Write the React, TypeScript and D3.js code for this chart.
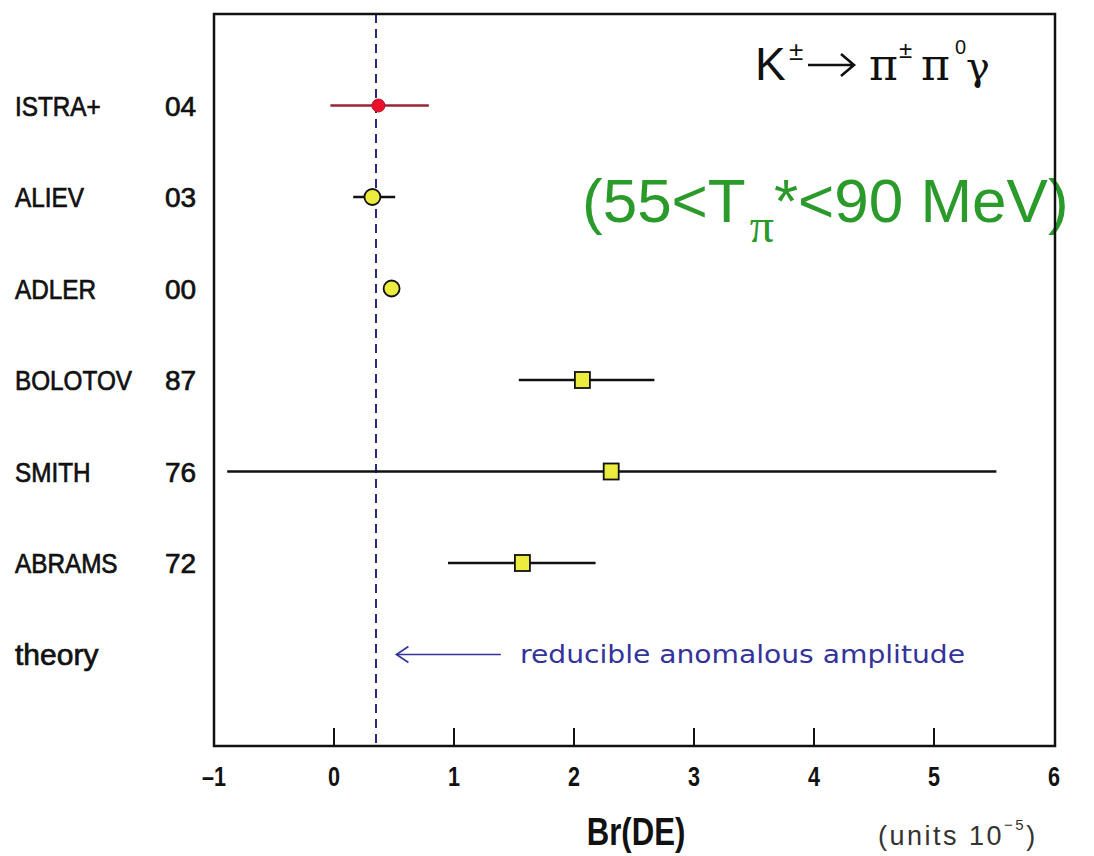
import React from "react";
import * as d3 from "d3";

const ROWS = ["ISTRA+", "ALIEV", "ADLER", "BOLOTOV", "SMITH", "ABRAMS", "theory"];
const YEARS = ["04", "03", "00", "87", "76", "72", ""];
const BR_VALUES = [0.37, 0.32, 0.48, 2.07, 2.31, 1.57];
const ERR_LOW = [-0.03, 0.16, 0.42, 1.54, -0.89, 0.95];
const ERR_HIGH = [0.79, 0.51, 0.54, 2.67, 5.52, 2.18];
const MARKERS = ["red", "circle", "circle", "square", "square", "square"];
const X_TICKS = [-1, 0, 1, 2, 3, 4, 5, 6];
const THEORY_VALUE = 0.35;

const W = 1094;
const H = 856;
const M = { left: 214, right: 1055, top: 14, bottom: 746 };

export default function App() {
  const x = d3.scaleLinear().domain([-1, 6]).range([M.left, M.right - 1]);
  const y = d3.scalePoint<string>().domain(ROWS).range([M.top, M.bottom]).padding(1);
  const yellow = "#ecec3e";
  const blue = "#33339a";
  const fmt = (v: number) => (v < 0 ? "\u2013" + Math.abs(v) : String(v));
  const ty = y("theory") as number;

  return (
    <svg
      width={W}
      height={H}
      style={{ position: "absolute", left: 0, top: 0, background: "#fff" }}
      fontFamily="'Liberation Sans', Arial, sans-serif"
    >
      <rect x={0} y={0} width={W} height={H} fill="#fff" />

      {/* green annotation (under frame) */}
      <text x={582} y={222} fontSize={62} fill="#2a9a2a">
        (55&lt;T
        <tspan fontFamily="'Liberation Serif', serif" fontSize={48} dy={20} dx={4}>
          π
        </tspan>
        <tspan dy={-20}>*&lt;90 MeV)</tspan>
      </text>

      {/* theory dashed line */}
      <line
        x1={x(THEORY_VALUE)}
        x2={x(THEORY_VALUE)}
        y1={M.top}
        y2={M.bottom}
        stroke="#2a2a7a"
        strokeWidth={2}
        strokeDasharray="9,6"
      />

      {/* error bars and markers */}
      {BR_VALUES.map((v, i) => {
        const cy = y(ROWS[i]) as number;
        const isRed = MARKERS[i] === "red";
        return (
          <g key={ROWS[i]}>
            <line
              x1={x(ERR_LOW[i])}
              x2={x(ERR_HIGH[i])}
              y1={cy}
              y2={cy}
              stroke={isRed ? "#9a2434" : "#111"}
              strokeWidth={2.6}
            />
            {MARKERS[i] === "square" ? (
              <rect
                x={x(v) - 7.5}
                y={cy - 8}
                width={15}
                height={16}
                fill={yellow}
                stroke="#111"
                strokeWidth={1.8}
              />
            ) : isRed ? (
              <circle cx={x(v)} cy={cy} r={6.5} fill="#e8102a" stroke="#c0102a" strokeWidth={1} />
            ) : (
              <circle cx={x(v)} cy={cy} r={8} fill={yellow} stroke="#111" strokeWidth={1.8} />
            )}
          </g>
        );
      })}

      {/* theory annotation */}
      <g stroke={blue} strokeWidth={1.6} fill="none">
        <line x1={x(0.52)} x2={x(1.39)} y1={ty} y2={ty} />
        <path d={`M${x(0.52) + 12},${ty - 8} L${x(0.52)},${ty} L${x(0.52) + 12},${ty + 8}`} />
      </g>
      <text
        x={520}
        y={ty + 8}
        fontFamily="'DejaVu Sans', sans-serif"
        fontSize={24}
        fill={blue}
        textLength={445}
        lengthAdjust="spacingAndGlyphs"
      >
        reducible anomalous amplitude
      </text>

      {/* row labels */}
      {ROWS.map((r, i) => {
        const cy = y(r) as number;
        const isTheory = r === "theory";
        return (
          <g key={"lab" + r}>
            <text
              transform={`translate(15,${cy + 10}) scale(${isTheory ? 1 : 0.9},1)`}
              fontSize={isTheory ? 30 : 27}
              fill="#111"
              stroke="#111"
              strokeWidth={0.7}
            >
              {r}
            </text>
            {YEARS[i] && (
              <text x={165} y={cy + 10} fontSize={28} fill="#111" stroke="#111" strokeWidth={0.7}>
                {YEARS[i]}
              </text>
            )}
          </g>
        );
      })}

      {/* ticks */}
      {X_TICKS.map((t) => (
        <g key={"t" + t}>
          {t > -1 && t < 6 && (
            <line x1={x(t)} x2={x(t)} y1={M.bottom} y2={M.bottom - 18} stroke="#111" strokeWidth={2} />
          )}
          <text
            transform={`translate(${x(t)},786) scale(0.8,1)`}
            textAnchor="middle"
            fontSize={27}
            fontWeight="bold"
            fill="#111"
          >
            {fmt(t)}
          </text>
        </g>
      ))}

      {/* frame */}
      <rect
        x={M.left}
        y={M.top}
        width={M.right - M.left}
        height={M.bottom - M.top}
        fill="none"
        stroke="#111"
        strokeWidth={2.5}
      />

      {/* axis title */}
      <text
        transform={`translate(636,845) scale(0.82,1)`}
        textAnchor="middle"
        fontSize={38}
        fontWeight="bold"
        fill="#111"
      >
        Br(DE)
      </text>
      <text x={878} y={845} fontSize={27} fill="#333" letterSpacing={2.5}>
        (units 10
        <tspan fontSize={15} dy={-15}>
          −5
        </tspan>
        <tspan dy={15}>)</tspan>
      </text>

      {/* title */}
      <g fill="#111">
        <text x={755} y={80} fontSize={46}>
          K
        </text>
        <text x={789} y={60} fontSize={26}>
          ±
        </text>
        <path d="M808,65 H853 M841,54 L854,65 L841,76" stroke="#111" strokeWidth={2.6} fill="none" />
        <text x={869} y={80} fontSize={44} fontFamily="'DejaVu Serif', serif">
          π
        </text>
        <text x={899} y={58} fontSize={24}>
          ±
        </text>
        <text x={921} y={80} fontSize={44} fontFamily="'DejaVu Serif', serif">
          π
        </text>
        <text x={955} y={54} fontSize={20}>
          0
        </text>
        <text x={966} y={80} fontSize={40} fontFamily="'DejaVu Serif', serif">
          γ
        </text>
      </g>
    </svg>
  );
}
